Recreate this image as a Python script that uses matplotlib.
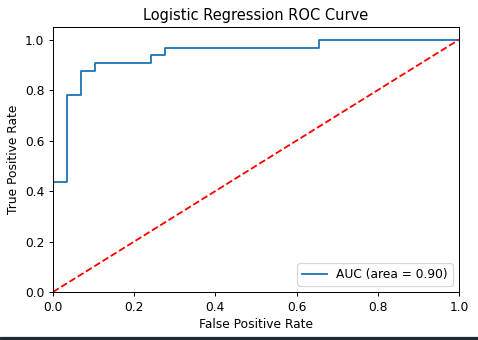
import matplotlib
matplotlib.use("Agg")
import matplotlib.pyplot as plt
from matplotlib.patches import Rectangle

# ROC curve data
fpr = [0.0, 0.0, 1/29, 1/29, 2/29, 2/29, 3/29, 3/29, 7/29, 7/29, 8/29, 8/29, 19/29, 19/29, 1.0]
tpr = [0.0, 14/32, 14/32, 25/32, 25/32, 28/32, 28/32, 29/32, 29/32, 30/32, 30/32, 31/32, 31/32, 1.0, 1.0]
auc_label = "AUC (area = 0.90)"
diag = [0, 1]

DPI = 88
fig = plt.figure(figsize=(478/DPI, 340/DPI), dpi=DPI)
ax = fig.add_axes([53/478, 48/340, 406/478, 265/340])
ax.plot(fpr, tpr, color="#1f77b4", label=auc_label)
ax.plot(diag, diag, "r--")
ax.set_xlim(0, 1.0)
ax.set_ylim(0, 1.05)
ax.set_xlabel("False Positive Rate")
ax.set_ylabel("True Positive Rate")
ax.set_title("Logistic Regression ROC Curve")
ax.legend(loc="lower right")

# dark strip at the bottom of the screenshot
fig.patches.append(Rectangle((0, 0), 1, 3/340, transform=fig.transFigure,
                             color="#1e2a35", zorder=10))
fig.savefig("out.png", dpi=DPI)
